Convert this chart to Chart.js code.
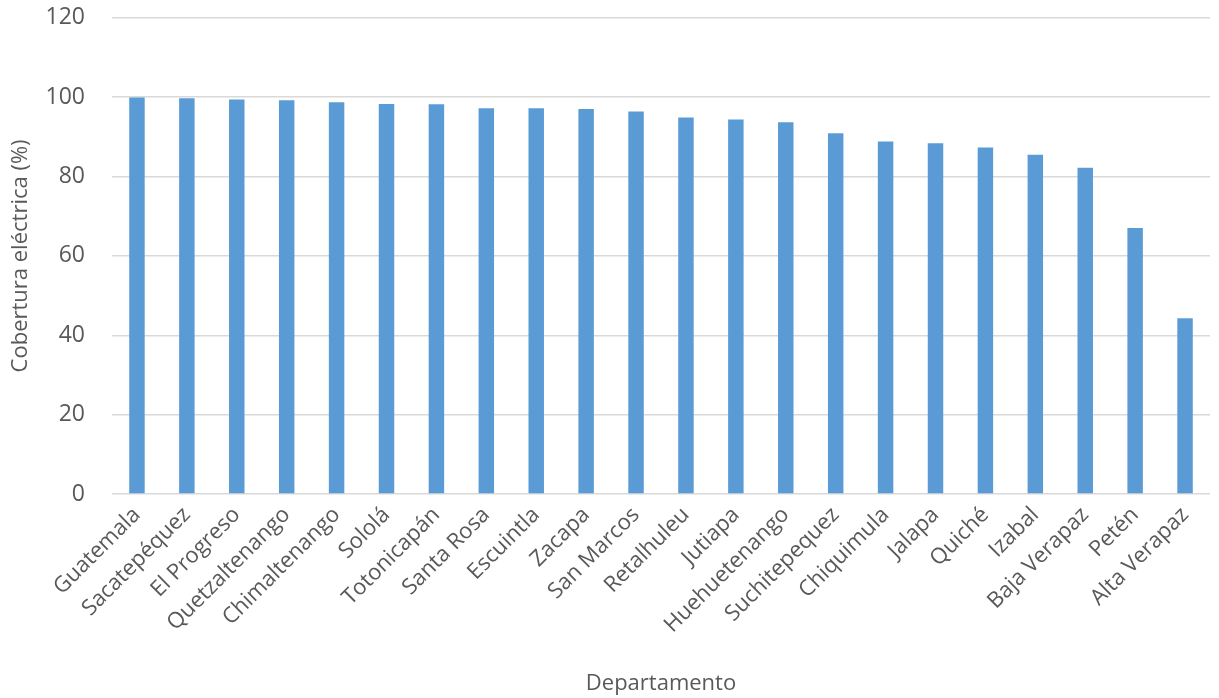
<!DOCTYPE html>
<html lang="es">
  <head>
    <meta charset="UTF-8" />
    <title>Cobertura eléctrica por departamento</title>
    <script src="https://cdn.jsdelivr.net/npm/chart.js"></script>
    <style>
      html, body { margin: 0; padding: 0; background: #ffffff; }
      .wrap { width: 1219px; height: 698px; }
    </style>
  </head>
  <body>
    <div class="wrap"><canvas id="coberturaChart" width="1219" height="698"></canvas></div>
    <script>
      // Departamentos y cobertura (%)
      const departamentos = [
        "Guatemala", "Sacatepéquez", "El Progreso", "Quetzaltenango", "Chimaltenango",
        "Sololá", "Totonicapán", "Santa Rosa", "Escuintla", "Zacapa", "San Marcos",
        "Retalhuleu", "Jutiapa", "Huehuetenango", "Suchitepequez", "Chiquimula",
        "Jalapa", "Quiché", "Izabal", "Baja Verapaz", "Petén", "Alta Verapaz"
      ];
      const cobertura = [
        99.9, 99.7, 99.4, 99.2, 98.7, 98.3, 98.2, 97.2, 97.2, 97.0, 96.4,
        94.9, 94.4, 93.7, 90.9, 88.8, 88.4, 87.3, 85.5, 82.2, 67.0, 44.3
      ];
      const yTicks = [0, 20, 40, 60, 80, 100, 120];

      const textColor = "#595959";
      const fontFamily = "'Open Sans', sans-serif";

      let ctx = document.getElementById("coberturaChart").getContext("2d");
      const chart = new Chart(ctx, {
        type: "bar",
        data: {
          labels: departamentos,
          datasets: [
            {
              label: "Cobertura eléctrica (%)",
              data: cobertura,
              backgroundColor: "#5B9BD5",
              borderWidth: 0,
              barPercentage: 0.62,
              categoryPercentage: 0.5,
            },
          ],
        },
        options: {
          responsive: false,
          animation: false,
          layout: { padding: { top: 1, right: 9, left: 0, bottom: 0 } },
          plugins: {
            legend: { display: false },
            tooltip: { enabled: false },
          },
          scales: {
            y: {
              min: yTicks[0],
              max: yTicks[yTicks.length - 1],
              afterBuildTicks: (s) => { s.ticks = yTicks.map((v) => ({ value: v })); },
              afterFit: (s) => { s.width = 112; },
              grid: {
                color: "#d9d9d9",
                lineWidth: 1.5,
                drawTicks: true,
                tickLength: 23,
                tickColor: "rgba(0,0,0,0)",
              },
              border: { display: false },
              ticks: {
                color: textColor,
                font: { family: fontFamily, size: 23 },
                padding: 4,
              },
              title: {
                display: true,
                text: "Cobertura eléctrica (%)",
                color: textColor,
                font: { family: fontFamily, size: 22 },
                padding: { top: 8, bottom: 4 },
              },
            },
            x: {
              afterFit: (s) => { s.height = 698 - 494; },
              grid: { display: false, drawTicks: false },
              border: { display: false },
              ticks: {
                color: textColor,
                font: { family: fontFamily, size: 22 },
                maxRotation: 45,
                minRotation: 45,
                autoSkip: false,
                padding: 8,
              },
              title: {
                display: true,
                text: "Departamento",
                color: textColor,
                font: { family: fontFamily, size: 22 },
                padding: { top: 0, bottom: 1 },
              },
            },
          },
        },
      });
    </script>
  </body>
</html>
